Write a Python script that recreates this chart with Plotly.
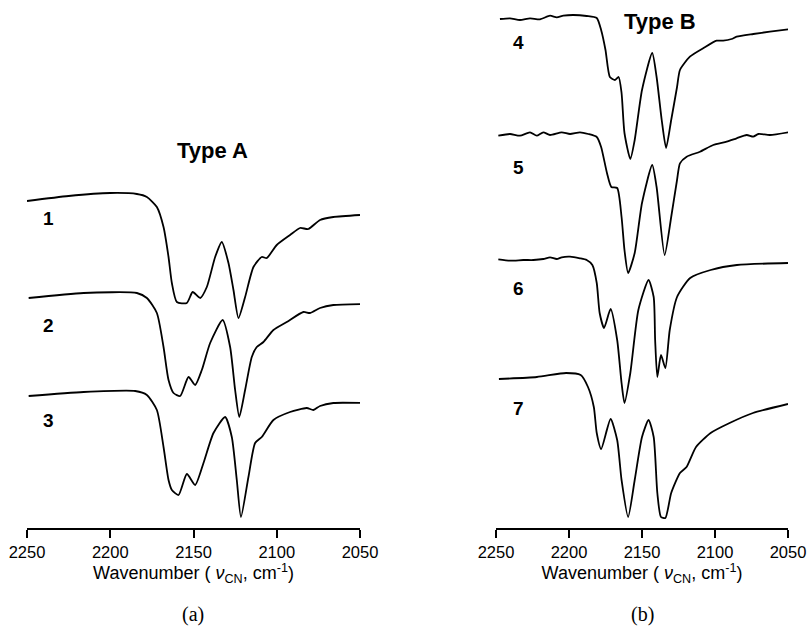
import plotly.graph_objects as go

# Wavenumber (cm-1) and relative transmittance (arbitrary units, offset per trace)
x1 = [2250, 2225, 2200, 2184, 2178, 2172, 2168, 2165, 2163, 2160, 2154, 2150.5, 2146, 2142, 2137, 2133, 2129, 2126, 2123, 2119, 2114, 2109, 2106, 2100, 2092, 2086, 2081, 2074, 2066, 2050]
y1 = [327, 332, 335, 334, 331, 321, 301, 271, 245, 226, 225, 236, 230, 241, 271, 286, 265, 238, 210, 231, 261, 271, 270, 283, 293, 300, 299, 308, 311, 313]

x2 = [2249, 2216, 2184, 2178, 2172, 2168, 2165, 2162, 2158, 2153, 2149, 2145, 2140, 2132.5, 2128, 2125, 2122.5, 2119, 2115, 2112, 2108, 2102, 2094, 2084, 2080, 2074, 2066, 2049]
y2 = [230, 235, 235, 230, 215, 181, 148, 135, 132, 151, 143, 158, 185, 208, 181, 138, 111, 138, 171, 181, 186, 198, 206, 216, 215, 220, 223, 224]

x3 = [2249, 2216, 2185, 2178, 2172, 2168, 2165, 2163, 2159, 2154, 2149, 2144, 2138, 2131, 2127, 2124, 2121.5, 2117, 2113, 2109, 2102, 2092, 2082, 2078, 2074, 2066, 2049]
y3 = [132, 136, 137, 133, 118, 81, 48, 38, 33, 54, 43, 65, 95, 111, 91, 48, 11, 51, 85, 91, 108, 116, 120, 118, 122, 125, 125]

x4 = [2247.3, 2240.4, 2233.6, 2226.7, 2219.9, 2213, 2208.4, 2203.9, 2197, 2187.9, 2181, 2178, 2175, 2172, 2168.5, 2166, 2164, 2162, 2158, 2155, 2150, 2143, 2140, 2136.5, 2133.5, 2130, 2126, 2124, 2117.2, 2108.1, 2098.9, 2094.4, 2088.6, 2085.2, 2073.8, 2062.4, 2049.8]
y4 = [509, 509.7, 508, 509.7, 508.7, 512.3, 510.7, 512.3, 513, 512, 510, 498, 478, 451, 448, 451, 435, 395, 369, 388, 438, 475, 451, 408, 380, 408, 441, 458, 471.3, 479.7, 487.3, 487.3, 489, 491.3, 494, 496.3, 498.7]

x5 = [2248.4, 2240.4, 2233.6, 2226.7, 2222.1, 2217.6, 2213, 2205, 2199.3, 2192.5, 2186.8, 2181, 2178, 2174, 2171, 2167, 2164, 2162, 2159.5, 2155, 2150, 2143, 2140, 2134.5, 2130, 2126, 2124, 2119.4, 2110.3, 2101.2, 2092, 2085.2, 2078.3, 2073.8, 2070.3, 2062.4, 2049.8]
y5 = [392.3, 394, 392.3, 395.7, 392.3, 395.7, 393, 395.7, 394, 395.7, 394, 391, 381, 355, 341, 340, 311, 278, 255, 275, 325, 363, 341, 273, 311, 348, 364.7, 371.3, 376.3, 383, 386.3, 389.7, 393, 391.3, 394, 393, 395.7]

x6 = [2248.4, 2240.4, 2231.3, 2224.4, 2217.6, 2213, 2208.4, 2205, 2199.3, 2192.5, 2187.9, 2184, 2181, 2179, 2176, 2171.5, 2167, 2164, 2162, 2158, 2152.5, 2145.5, 2142, 2141, 2139.5, 2137, 2134, 2131, 2126, 2117, 2103, 2085, 2050]
y6 = [268.7, 267.3, 268, 268, 269, 270.7, 269, 270.7, 271.3, 269.7, 268, 263, 245, 215, 200, 219, 188, 145, 125, 155, 218, 248, 231, 188, 151, 173, 160, 198, 231, 250, 258, 263, 265]

x7 = [2248, 2222, 2202, 2192, 2187, 2183, 2181, 2178, 2171.5, 2167, 2164, 2159.5, 2155, 2150, 2145.5, 2142, 2139.5, 2137, 2134, 2130, 2124, 2119.5, 2113, 2103, 2090, 2074, 2050]
y7 = [149, 151, 155, 153, 141, 121, 95, 79, 109, 88, 48, 11, 48, 91, 108, 91, 35, 11, 10, 35, 55, 61, 81, 95, 105, 115, 124]

tick_vals = [2250, 2200, 2150, 2100, 2050]
tick_text = ["2250", "2200", "2150", "2100", "2050"]
labels_a = ["1", "2", "3"]
labels_b = ["4", "5", "6", "7"]

W, H = 809, 629
AXIS_Y = 528

fig = go.Figure()
line = dict(color="black", width=1.8, shape="spline", smoothing=0.6)
for xs, ys in [(x1, y1), (x2, y2), (x3, y3)]:
    fig.add_trace(go.Scatter(x=xs, y=ys, mode="lines", line=line, xaxis="x", yaxis="y", showlegend=False, hoverinfo="skip"))
for xs, ys in [(x4, y4), (x5, y5), (x6, y6), (x7, y7)]:
    fig.add_trace(go.Scatter(x=xs, y=ys, mode="lines", line=line, xaxis="x2", yaxis="y2", showlegend=False, hoverinfo="skip"))

ybot = (H - AXIS_Y) / H
xtitle = dict(text="Wavenumber ( <i>ν</i><sub>CN</sub>, cm<sup>-1</sup>)", font=dict(size=18, color="black"), standoff=4)
xax = dict(range=[2250, 2050], tickvals=tick_vals, ticktext=tick_text, ticks="outside", ticklen=8, tickwidth=1.8,
           tickcolor="black", showline=True, linecolor="black", linewidth=1.8, showgrid=False, zeroline=False,
           tickfont=dict(size=16.5, color="black"), title=xtitle, automargin=False)
yax = dict(range=[0, AXIS_Y], domain=[ybot, 1], visible=False, showgrid=False, zeroline=False, automargin=False)

fig.update_layout(
    width=W, height=H, margin=dict(l=0, r=0, t=0, b=0, autoexpand=False),
    paper_bgcolor="white", plot_bgcolor="white",
    font=dict(family="Liberation Sans, Arial, sans-serif", color="black"),
    xaxis=dict(domain=[27 / W, 360 / W], anchor="y", **xax),
    xaxis2=dict(domain=[496 / W, 788 / W], anchor="y2", **xax),
    yaxis=dict(anchor="x", **yax),
    yaxis2=dict(anchor="x2", **yax),
)

def ann(px, py, text, size, bold=True, family=None):
    fig.add_annotation(x=px / W, y=1 - py / H, xref="paper", yref="paper",
                       text=f"<b>{text}</b>" if bold else text,
                       showarrow=False, xanchor="center", yanchor="middle",
                       font=dict(size=size, color="black", family=family or "Liberation Sans, Arial, sans-serif"))

ann(212, 151, "Type A", 22)
ann(660, 22, "Type B", 22)
for lab, py in zip(labels_a, [219, 325, 420]):
    ann(48, py, lab, 19)
for lab, py in zip(labels_b, [42, 167, 288, 408]):
    ann(518, py, lab, 19)
ann(193, 614, "(a)", 20, bold=False, family="Liberation Serif, Times New Roman, serif")
ann(642, 614, "(b)", 20, bold=False, family="Liberation Serif, Times New Roman, serif")

fig.write_html("out.html", config={"displayModeBar": False},
               post_script="document.body.style.margin='0';document.body.style.overflow='hidden';")
